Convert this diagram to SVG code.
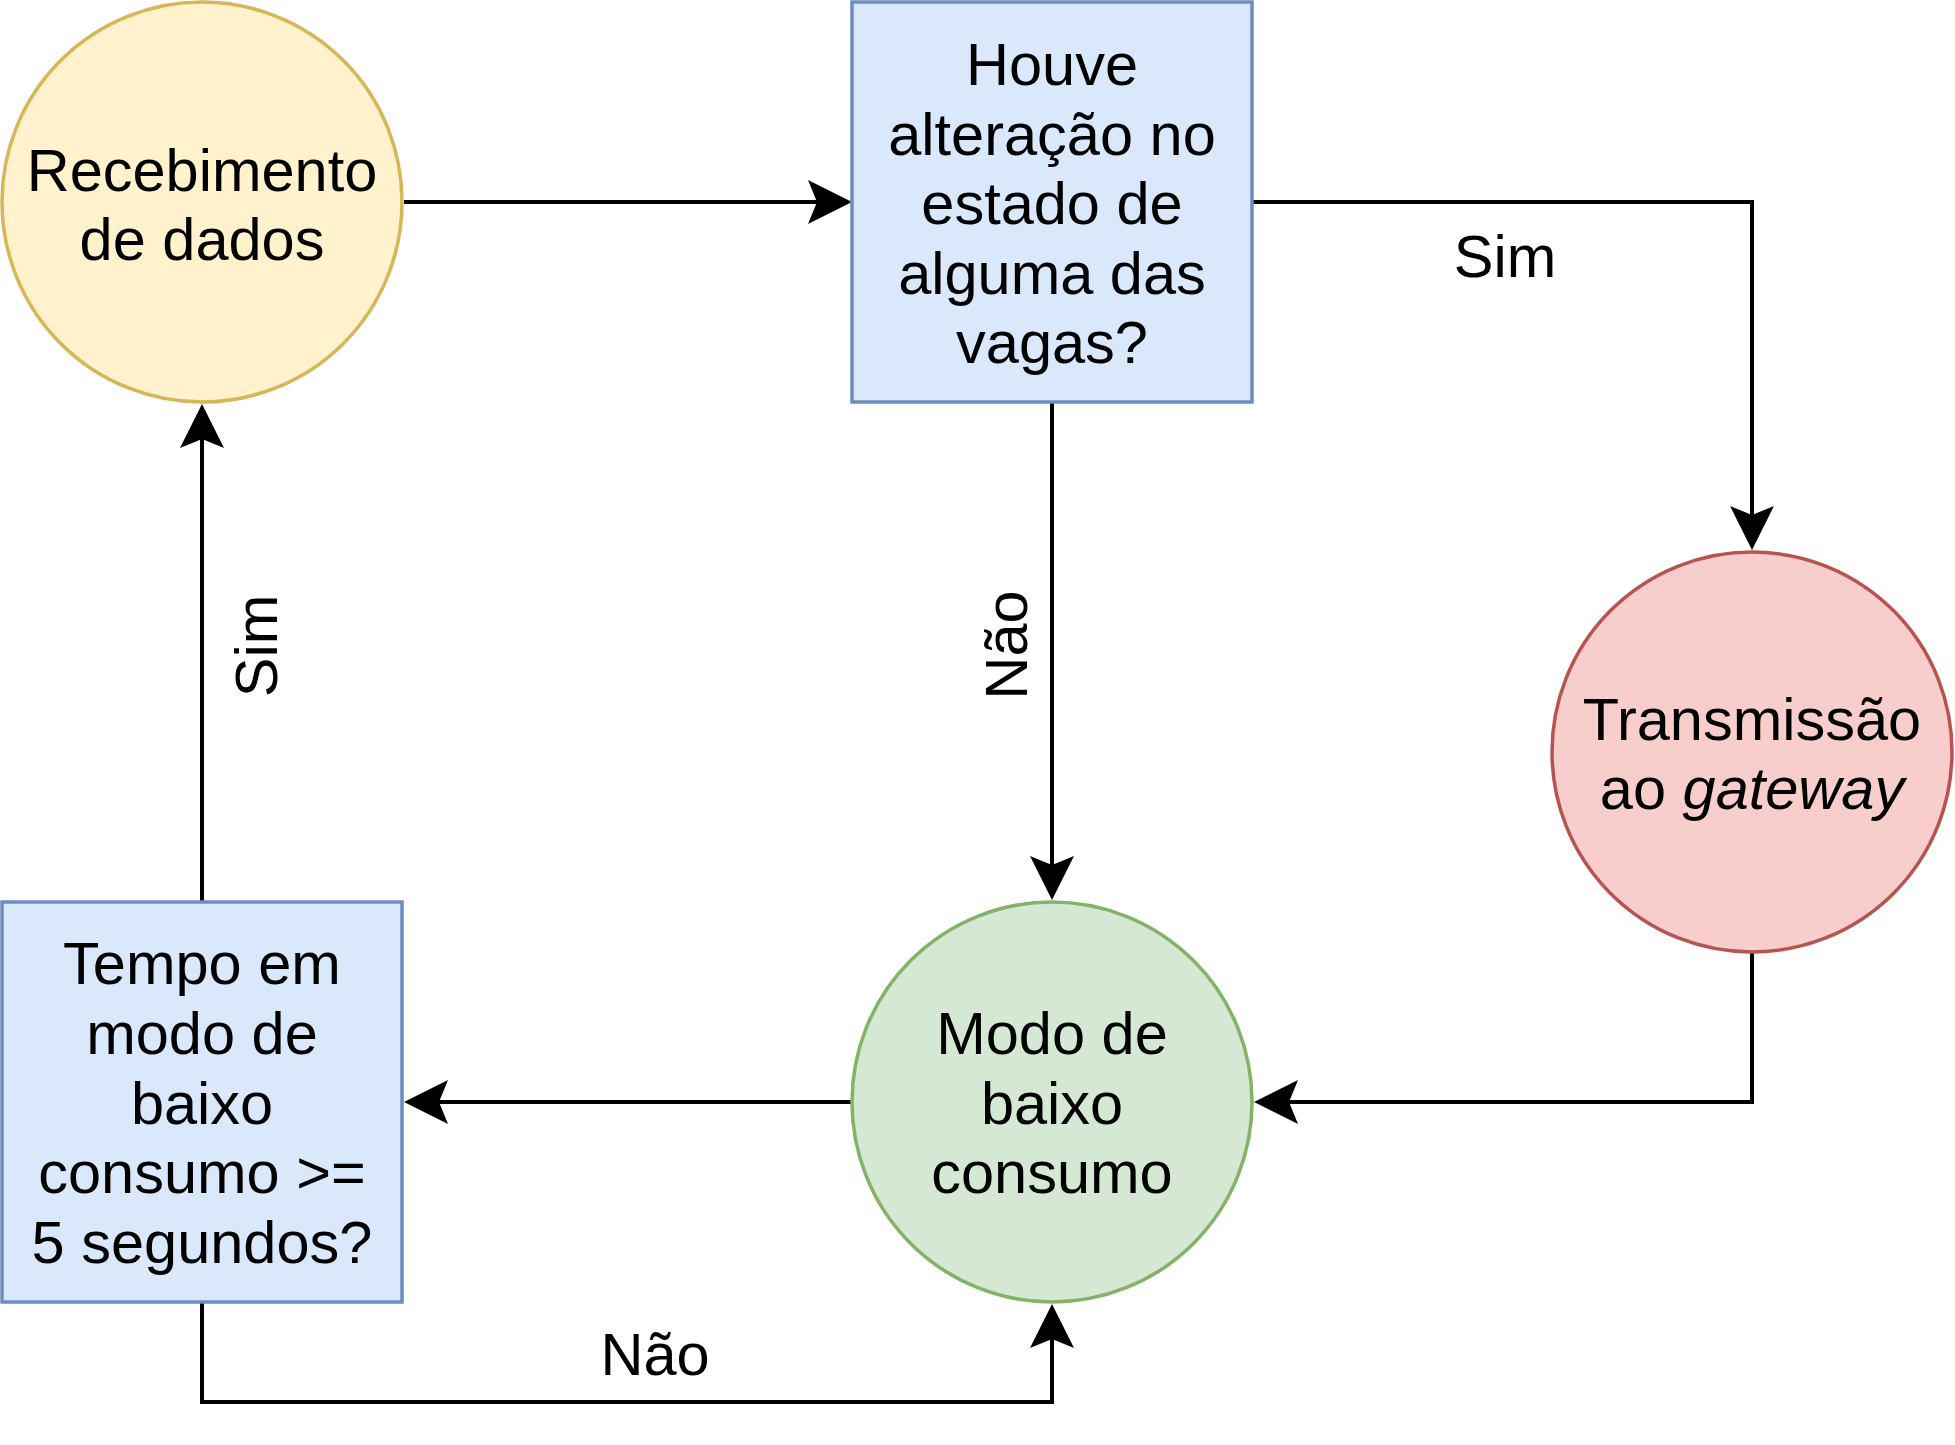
<svg xmlns="http://www.w3.org/2000/svg" width="1955" height="1445" viewBox="0 0 1955 1445">
<style>
text{font-family:"Liberation Sans",Arial,Helvetica,sans-serif;font-size:59.5px;fill:#000;text-anchor:middle}
.node{stroke-width:3.5}
.edge{fill:none;stroke:#000;stroke-width:4}
</style>
<defs>
<marker id="arr" viewBox="-45 -23 46 46" refX="-35" refY="0" markerWidth="46" markerHeight="46" markerUnits="userSpaceOnUse" orient="auto">
<path d="M0,0 L-44,-22 L-35,0 L-44,22 Z" fill="#000"/>
</marker>
</defs>
<rect width="1955" height="1445" fill="#fff"/>
<g id="connectors">
<path class="edge" d="M404,202 L817,202" marker-end="url(#arr)"/>
<path class="edge" d="M1252,202 L1752,202 L1752,515" marker-end="url(#arr)"/>
<path class="edge" d="M1052,402 L1052,865" marker-end="url(#arr)"/>
<path class="edge" d="M1752,952 L1752,1102 L1289,1102" marker-end="url(#arr)"/>
<path class="edge" d="M852,1102 L439,1102" marker-end="url(#arr)"/>
<path class="edge" d="M202,902 L202,439" marker-end="url(#arr)"/>
<path class="edge" d="M202,1302 L202,1402 L1052,1402 L1052,1339" marker-end="url(#arr)"/>
<text x="1505" y="277">Sim</text>
<text transform="translate(1027,645) rotate(-90)" x="0" y="0">Não</text>
<text transform="translate(277,646) rotate(-90)" x="0" y="0">Sim</text>
<text x="655" y="1375">Não</text>
</g>
<g id="recebimento">
<circle class="node" cx="202" cy="202" r="200" fill="#fff2cc" stroke="#d6b656"/>
<text x="202" y="191">Recebimento</text>
<text x="202" y="260">de dados</text>
</g>
<g id="houve-alteracao">
<rect class="node" x="852" y="2" width="400" height="400" fill="#dae8fc" stroke="#6c8ebf"/>
<text x="1052" y="85">Houve</text>
<text x="1052" y="155">alteração no</text>
<text x="1052" y="224">estado de</text>
<text x="1052" y="294">alguma das</text>
<text x="1052" y="363">vagas?</text>
</g>
<g id="transmissao">
<circle class="node" cx="1752" cy="752" r="200" fill="#f8cecc" stroke="#b85450"/>
<text x="1752" y="740">Transmissão</text>
<text x="1752" y="809">ao <tspan font-style="italic">gateway</tspan></text>
</g>
<g id="modo-baixo-consumo">
<circle class="node" cx="1052" cy="1102" r="200" fill="#d5e8d4" stroke="#82b366"/>
<text x="1052" y="1054">Modo de</text>
<text x="1052" y="1124">baixo</text>
<text x="1052" y="1193">consumo</text>
</g>
<g id="tempo-modo">
<rect class="node" x="2" y="902" width="400" height="400" fill="#dae8fc" stroke="#6c8ebf"/>
<text x="202" y="984">Tempo em</text>
<text x="202" y="1054">modo de</text>
<text x="202" y="1124">baixo</text>
<text x="202" y="1193">consumo &gt;=</text>
<text x="202" y="1263">5 segundos?</text>
</g>
</svg>
